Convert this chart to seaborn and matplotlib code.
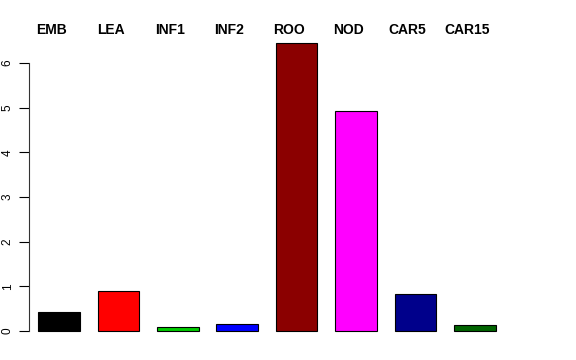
import matplotlib
matplotlib.use("Agg")
import matplotlib.pyplot as plt
import seaborn as sns
import pandas as pd

categories = ["EMB", "LEA", "INF1", "INF2", "ROO", "NOD", "CAR5", "CAR15"]
values = [0.42, 0.90, 0.09, 0.16, 6.45, 4.93, 0.83, 0.13]
colors = ["#000000", "#FF0000", "#00CD00", "#0000FF", "#8B0000", "#FF00FF", "#00008B", "#006400"]
yticks = [0, 1, 2, 3, 4, 5, 6]

sns.set_style("white")
plt.rcParams["font.family"] = ["Liberation Sans", "DejaVu Sans"]
plt.rcParams["text.color"] = "black"
plt.rcParams["ytick.color"] = "black"
plt.rcParams["ytick.labelcolor"] = "black"

df = pd.DataFrame({"cat": categories, "val": values})

fig = plt.figure(figsize=(5.76, 3.6), dpi=100)
ax = fig.add_axes([0.0503, 0.0486, 0.826, 0.864])

sns.barplot(data=df, x="cat", y="val", hue="cat", palette=colors, order=categories,
            hue_order=categories, width=0.7, edgecolor="black", linewidth=0.8,
            legend=False, ax=ax, saturation=1)

ax.set_xlim(-0.505, len(categories) - 1 + 0.505)
ax.set_ylim(-0.258, 6.708)
ax.set_xlabel("")
ax.set_ylabel("")
ax.set_xticks([])
ax.set_yticks(yticks)
ax.set_yticklabels([str(t) for t in yticks], rotation=90, va="center", fontsize=8.5, color="black")
ax.tick_params(axis="y", direction="out", length=7, width=0.8, pad=4, left=True,
               colors="black", labelcolor="black")
for s in ["top", "right", "bottom"]:
    ax.spines[s].set_visible(False)
ax.spines["left"].set_bounds(0, 6)
ax.spines["left"].set_color("#333333")
ax.spines["left"].set_linewidth(0.8)

for i, c in enumerate(categories):
    ax.text(i - 0.13, 6.74, c, ha="center", va="center", fontsize=10, fontweight="bold",
            color="black")

fig.savefig("out.png", dpi=100)
